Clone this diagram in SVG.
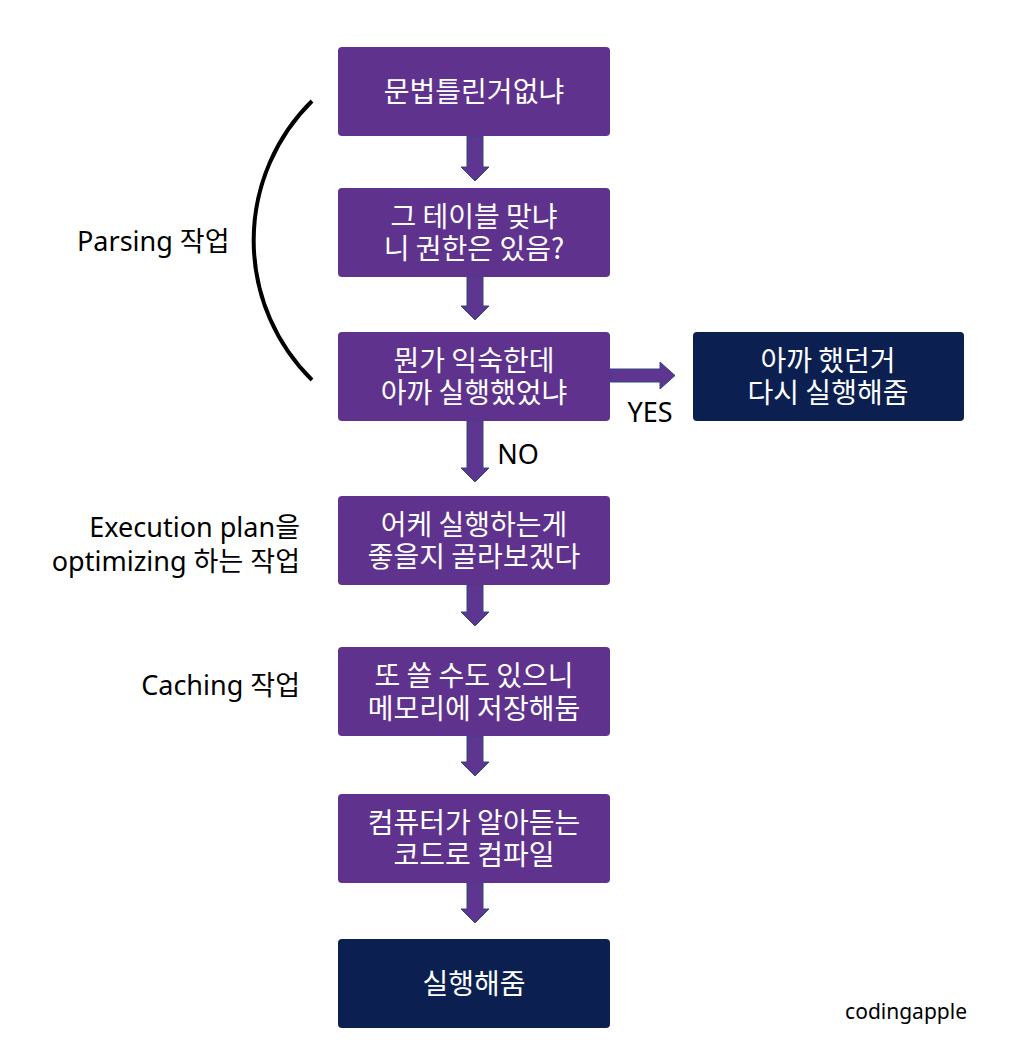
<svg xmlns="http://www.w3.org/2000/svg" width="1018" height="1064" viewBox="0 0 1018 1064">
<style>
.box{fill:#5F338D;}
.dark{fill:#0B1F51;}
.bt{font-family:"Noto Sans CJK KR","Malgun Gothic",sans-serif;font-size:28px;fill:#FFFFFF;text-anchor:middle;dominant-baseline:central;}
.lt{font-family:"Noto Sans","Noto Sans CJK KR",sans-serif;font-size:27px;fill:#000000;dominant-baseline:central;}
.sig{font-size:21px;}
.arr{fill:#5F3592;stroke:#2F4A7E;stroke-width:1;}
</style>
<rect width="1018" height="1064" fill="#FFFFFF"/>
<g id="connectors">
<polygon class="arr" points="467,136 483,136 483,167 489,167 475,181 461,167 467,167"/>
<polygon class="arr" points="467,277 483,277 483,306 489,306 475,320 461,306 467,306"/>
<polygon class="arr" points="467,421 483,421 483,468 489,468 475,482 461,468 467,468"/>
<polygon class="arr" points="467,585 483,585 483,612 489,612 475,626 461,612 467,612"/>
<polygon class="arr" points="467,736 483,736 483,762 489,762 475,776 461,762 467,762"/>
<polygon class="arr" points="467,883 483,883 483,909 489,909 475,923 461,909 467,909"/>
<polygon class="arr" points="610,369 660,369 660,362 675,375.5 660,389 660,382 610,382"/>
<text class="lt" x="650" y="411" text-anchor="middle">YES</text>
<text class="lt" x="518" y="453" text-anchor="middle">NO</text>
</g>
<g id="bracket">
<path d="M312,101 A196,196 0 0 0 312,380" fill="none" stroke="#000000" stroke-width="4"/>
</g>
<g id="n1">
<rect class="box" x="338" y="47" width="272" height="89" rx="4"/>
<text class="bt" x="474" y="90">문법틀린거없냐</text>
</g>
<g id="n2">
<rect class="box" x="338" y="188" width="272" height="89" rx="4"/>
<text class="bt" x="474" y="215">그 테이블 맞냐<tspan x="474" dy="32">니 권한은 있음?</tspan></text>
</g>
<g id="n3">
<rect class="box" x="338" y="332" width="272" height="89" rx="4"/>
<text class="bt" x="474" y="359">뭔가 익숙한데<tspan x="474" dy="32">아까 실행했었냐</tspan></text>
</g>
<g id="n3b">
<rect class="dark" x="693" y="332" width="271" height="89" rx="4"/>
<text class="bt" x="828" y="359">아까 했던거<tspan x="828" dy="32">다시 실행해줌</tspan></text>
</g>
<g id="n4">
<rect class="box" x="338" y="496" width="272" height="89" rx="4"/>
<text class="bt" x="474" y="523">어케 실행하는게<tspan x="474" dy="32">좋을지 골라보겠다</tspan></text>
</g>
<g id="n5">
<rect class="box" x="338" y="647" width="272" height="89" rx="4"/>
<text class="bt" x="474" y="674">또 쓸 수도 있으니<tspan x="474" dy="33">메모리에 저장해둠</tspan></text>
</g>
<g id="n6">
<rect class="box" x="338" y="794" width="272" height="89" rx="4"/>
<text class="bt" x="474" y="821">컴퓨터가 알아듣는<tspan x="474" dy="32">코드로 컴파일</tspan></text>
</g>
<g id="n7">
<rect class="dark" x="338" y="939" width="272" height="89" rx="4"/>
<text class="bt" x="474" y="982">실행해줌</text>
</g>
<g id="labels">
<text class="lt" x="77" y="240">Parsing 작업</text>
<text class="lt" x="300" y="526" text-anchor="end">Execution plan을<tspan x="300" dy="34">optimizing 하는 작업</tspan></text>
<text class="lt" x="300" y="684" text-anchor="end">Caching 작업</text>
<text class="lt sig" x="967" y="1011" text-anchor="end">codingapple</text>
</g>
</svg>
